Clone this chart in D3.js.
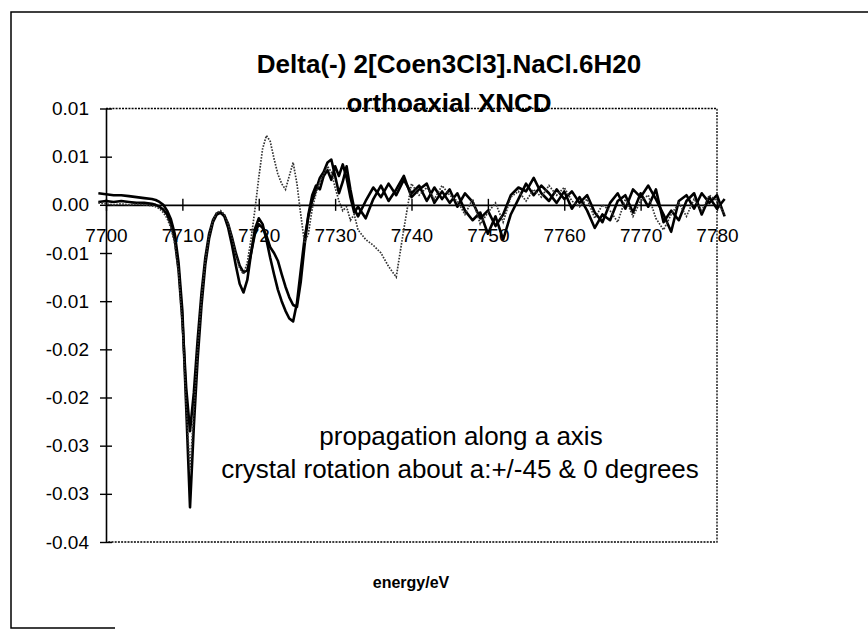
<!DOCTYPE html>
<html>
<head>
<meta charset="utf-8">
<script src="https://cdn.jsdelivr.net/npm/d3@7"></script>
<style>
  body { margin: 0; background: #fff; }
  svg { display: block; font-family: "Liberation Sans", Arial, sans-serif; }
</style>
</head>
<body>
<div id="chart"></div>
<script>
// photon energy (eV), shared by the three scans
var energy = [
  7699,7700,7701,7702,7703,7704,7705,7706,7706.5,7707,
  7707.5,7708,7708.5,7709,7709.5,7710,7710.5,7711,7711.5,7712,
  7712.5,7713,7713.5,7714,7714.5,7715,7715.5,7716,7716.5,7717,
  7717.5,7718,7718.5,7719,7719.5,7720,7720.5,7721,7721.5,7722,
  7722.5,7723,7723.5,7724,7724.5,7725,7725.5,7726,7726.5,7727,
  7727.5,7728,7728.5,7729,7729.5,7730,7730.5,7731,7731.5,7732,
  7732.5,7733,7734,7735,7736,7737,7738,7739,7740,7741,
  7742,7743,7744,7745,7746,7747,7748,7749,7750,7751,
  7752,7753,7754,7755,7756,7757,7758,7759,7760,7761,
  7762,7763,7764,7765,7766,7767,7768,7769,7770,7771,
  7772,7773,7774,7775,7776,7777,7778,7779,7780,7781
];

// rotation +45
var scanA = [
  0.0012,0.0011,0.0010,0.0010,0.0009,0.0008,0.0007,0.0006,0.0005,0.0003,
  0.0000,-0.0006,-0.0015,-0.0030,-0.0060,-0.0110,-0.0210,-0.0314,-0.0230,-0.0160,
  -0.0105,-0.0062,-0.0035,-0.0018,-0.0010,-0.0008,-0.0012,-0.0024,-0.0042,-0.0063,
  -0.0082,-0.0091,-0.0078,-0.0050,-0.0025,-0.0014,-0.0020,-0.0036,-0.0055,-0.0072,
  -0.0088,-0.0100,-0.0110,-0.0118,-0.0121,-0.0102,-0.0068,-0.0035,-0.0012,0.0004,
  0.0016,0.0028,0.0034,0.0044,0.0047,0.0030,0.0012,0.0024,0.0040,0.0016,
  -0.0004,-0.0012,0.0004,0.0018,0.0008,0.0022,0.0010,0.0026,0.0012,0.0020,
  0.0004,0.0018,0.0006,0.0016,-0.0002,0.0012,0.0003,-0.0014,-0.0006,-0.0022,
  -0.0010,0.0010,0.0018,0.0014,0.0028,0.0012,0.0004,0.0016,0.0006,0.0014,
  0.0002,0.0010,-0.0008,-0.0018,0.0002,0.0012,-0.0004,0.0016,0.0008,0.0020,
  0.0006,-0.0010,-0.0028,0.0004,0.0010,-0.0004,0.0012,0.0002,0.0010,-0.0012
];

// rotation -45
var scanB = [
  0.0003,0.0004,0.0003,0.0004,0.0003,0.0002,0.0002,0.0001,0.0000,-0.0002,
  -0.0005,-0.0010,-0.0020,-0.0036,-0.0068,-0.0120,-0.0190,-0.0235,-0.0195,-0.0140,
  -0.0092,-0.0055,-0.0030,-0.0016,-0.0009,-0.0008,-0.0011,-0.0020,-0.0034,-0.0050,
  -0.0063,-0.0070,-0.0068,-0.0050,-0.0030,-0.0020,-0.0024,-0.0032,-0.0044,-0.0050,
  -0.0058,-0.0072,-0.0085,-0.0096,-0.0104,-0.0106,-0.0080,-0.0042,-0.0010,0.0010,
  0.0020,0.0016,0.0030,0.0036,0.0026,0.0040,0.0030,0.0042,0.0028,0.0008,
  -0.0008,-0.0002,-0.0014,0.0006,0.0020,0.0004,0.0016,0.0030,0.0008,0.0016,
  0.0022,0.0002,0.0014,0.0002,0.0012,-0.0006,-0.0016,-0.0008,-0.0030,-0.0012,
  -0.0036,-0.0010,0.0006,0.0022,0.0010,0.0020,0.0012,0.0002,0.0014,-0.0004,
  0.0008,-0.0006,-0.0024,-0.0010,-0.0016,0.0004,0.0010,-0.0008,0.0012,-0.0002,
  0.0016,-0.0018,-0.0006,-0.0016,0.0004,0.0012,-0.0010,0.0008,-0.0004,0.0006
];

// rotation 0 (dotted)
var scanC = [
  0.0002,0.0001,0.0000,0.0001,0.0000,0.0001,0.0000,-0.0001,-0.0002,-0.0004,
  -0.0008,-0.0014,-0.0024,-0.0040,-0.0070,-0.0125,-0.0210,-0.0275,-0.0215,-0.0150,
  -0.0098,-0.0058,-0.0032,-0.0016,-0.0008,-0.0006,-0.0010,-0.0020,-0.0034,-0.0052,
  -0.0066,-0.0072,-0.0060,-0.0035,-0.0005,0.0028,0.0058,0.0072,0.0066,0.0048,
  0.0032,0.0022,0.0016,0.0030,0.0044,0.0022,-0.0010,-0.0040,-0.0030,-0.0004,
  0.0012,0.0024,0.0032,0.0040,0.0034,0.0018,0.0004,-0.0006,-0.0002,-0.0016,
  -0.0010,-0.0026,-0.0036,-0.0042,-0.0050,-0.0064,-0.0075,-0.0025,0.0022,0.0010,
  0.0018,0.0006,0.0020,0.0010,0.0004,-0.0010,0.0006,-0.0020,-0.0008,0.0002,
  -0.0018,0.0008,0.0014,0.0004,0.0016,0.0008,0.0020,0.0010,0.0018,0.0004,
  -0.0002,0.0006,-0.0014,0.0000,-0.0006,-0.0018,0.0006,-0.0012,0.0004,0.0010,
  -0.0014,-0.0026,-0.0010,0.0002,-0.0012,0.0006,-0.0006,0.0010,0.0004,-0.0010
];

var xTicks = [7700, 7710, 7720, 7730, 7740, 7750, 7760, 7770, 7780];
var yTicks = [0.01, 0.005, 0, -0.005, -0.01, -0.015, -0.02, -0.025, -0.03, -0.035];
var yTickLabels = ["0.01", "0.01", "0.00", "-0.01", "-0.01", "-0.02", "-0.02", "-0.03", "-0.03", "-0.04"];

var width = 868,
    height = 630,
    plotLeft = 106, plotRight = 717, plotTop = 108.5, plotBottom = 542;

var svg = d3.select('#chart').append('svg')
    .attr('width', width).attr('height', height);

svg.append('rect').attr('width', width).attr('height', height).attr('fill', '#fff');

var x = d3.scaleLinear().domain([7700, 7780]).range([plotLeft, plotRight]);
var y = d3.scaleLinear().domain([-0.035, 0.01]).range([plotBottom, plotTop]);

// outer chart frame (scan shows left, top and a bit of bottom)
svg.append('path')
  .attr('d', 'M115,628 L11,628 L11,12 L868,12')
  .attr('fill', 'none').attr('stroke', '#000').attr('stroke-width', 1.5);

// plot area frame, dotted
svg.append('path')
  .attr('d', 'M' + plotLeft + ',' + plotTop + ' H' + plotRight + ' V' + plotBottom + ' H' + plotLeft)
  .attr('fill', 'none').attr('stroke', '#000').attr('stroke-width', 1.3)
  .attr('stroke-dasharray', '2,1.2');

// y axis
var yAxis = svg.append('g')
  .attr('transform', 'translate(' + plotLeft + ',0)')
  .call(d3.axisLeft(y).tickValues(yTicks)
    .tickFormat(function(d, i) { return yTickLabels[i]; })
    .tickSize(6).tickSizeOuter(0).tickPadding(11));
yAxis.selectAll('.tick line').attr('x1', -6).attr('x2', 6);

// x axis through zero
var xAxis = svg.append('g')
  .attr('transform', 'translate(0,' + y(0) + ')')
  .call(d3.axisBottom(x).tickValues(xTicks).tickFormat(d3.format('d'))
    .tickSize(6).tickSizeOuter(0));
xAxis.selectAll('.tick line').attr('y1', -6).attr('y2', 6);
xAxis.selectAll('.tick text').attr('y', 37).attr('dy', null);

[yAxis, xAxis].forEach(function(g) {
  g.select('.domain').attr('stroke-width', 1.6);
  g.selectAll('.tick line').attr('stroke-width', 1.4);
  g.selectAll('.tick text').attr('font-size', 19).attr('fill', '#000')
    .attr('font-family', '"Liberation Sans", Arial, sans-serif');
});

var line = d3.line()
  .x(function(d) { return x(d[0]); })
  .y(function(d) { return y(d[1]); });

function pairs(vals) { return energy.map(function(e, i) { return [e, vals[i]]; }); }

svg.append('path').datum(pairs(scanB))
  .attr('d', line).attr('fill', 'none')
  .attr('stroke', '#000').attr('stroke-width', 2.6).attr('stroke-linejoin', 'round');
svg.append('path').datum(pairs(scanA))
  .attr('d', line).attr('fill', 'none')
  .attr('stroke', '#000').attr('stroke-width', 2.6).attr('stroke-linejoin', 'round');
svg.append('path').datum(pairs(scanC))
  .attr('d', line).attr('fill', 'none')
  .attr('stroke', '#333').attr('stroke-width', 1.7)
  .attr('stroke-dasharray', '1.6,1.4');

// titles and notes
svg.append('text').attr('x', 449).attr('y', 73)
  .attr('text-anchor', 'middle').attr('font-size', 26).attr('font-weight', 'bold')
  .text('Delta(-) 2[Coen3Cl3].NaCl.6H20');
svg.append('text').attr('x', 449).attr('y', 112)
  .attr('text-anchor', 'middle').attr('font-size', 26).attr('font-weight', 'bold')
  .text('orthoaxial XNCD');

svg.append('text').attr('x', 461).attr('y', 445)
  .attr('text-anchor', 'middle').attr('font-size', 26)
  .text('propagation along a axis');
svg.append('text').attr('x', 460).attr('y', 478)
  .attr('text-anchor', 'middle').attr('font-size', 26)
  .text('crystal rotation about a:+/-45 & 0 degrees');

svg.append('text').attr('x', 411).attr('y', 588)
  .attr('text-anchor', 'middle').attr('font-size', 16).attr('font-weight', 'bold')
  .text('energy/eV');
</script>
</body>
</html>
